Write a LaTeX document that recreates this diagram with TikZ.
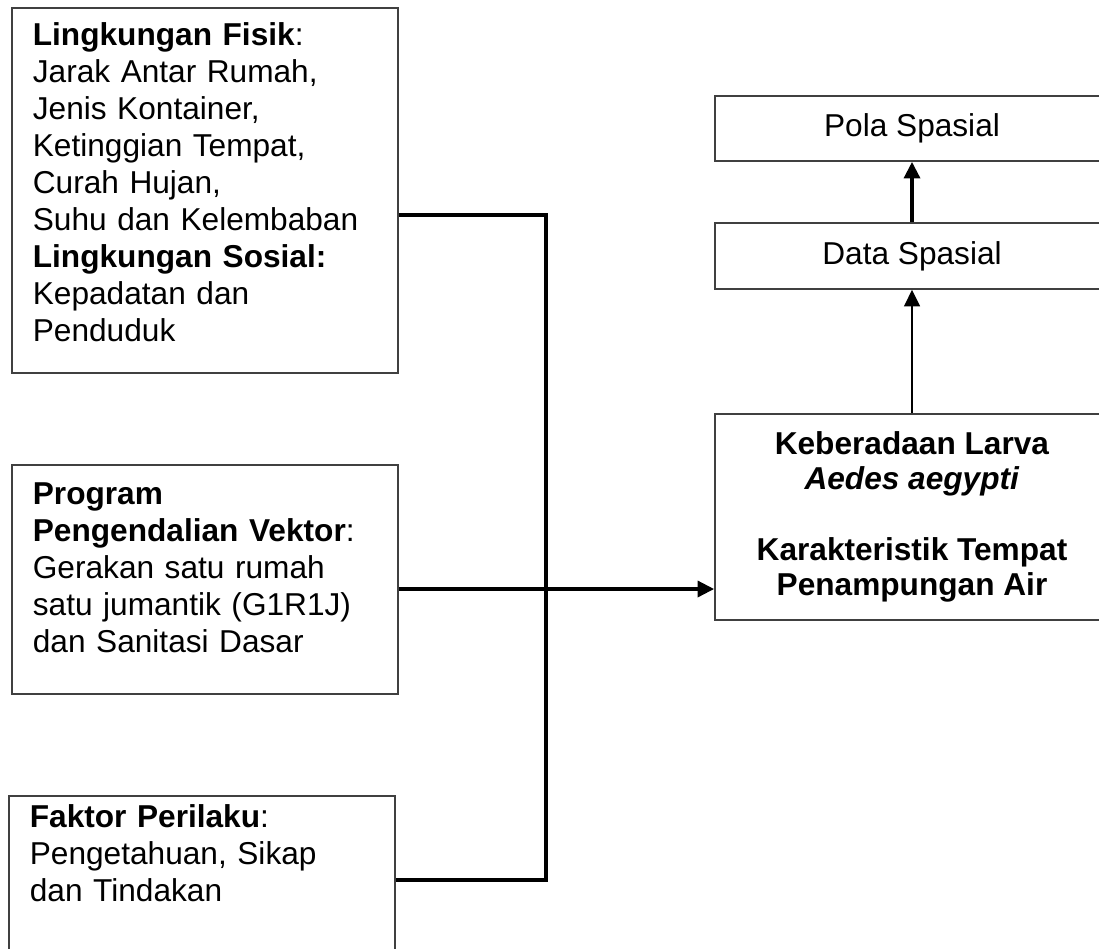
\documentclass[tikz,border=0pt]{standalone}
\usepackage{fontspec}
\setmainfont{Liberation Sans}
\usetikzlibrary{arrows.meta,positioning,calc}

\begin{document}
\begin{tikzpicture}[every node/.style={font=\fontsize{18}{21}\selectfont},
 faktor/.style={draw=black!75,line width=1pt,anchor=north west,align=left,text width=6.88cm,inner xsep=0.42cm,inner ysep=0.28cm},
 hasil/.style={draw=black!75,line width=1pt,minimum width=7.88cm,inner sep=0pt,align=center},
 garis/.style={line width=1.9pt},
 panah/.style={-{Triangle[length=0.33cm,width=0.32cm]},line width=1.9pt}]
\useasboundingbox (0,0) rectangle (21.98,-18.96);
\clip (0,0) rectangle (21.98,-18.96);
% kotak faktor di kiri
\node[faktor,text height=0.48cm,text depth=6.26cm] (fisik) at (0.22,-0.14)
 {\textbf{Lingkungan Fisik}:\\Jarak Antar Rumah,\\Jenis Kontainer,\\Ketinggian Tempat,\\Curah Hujan,\\Suhu dan Kelembaban\\\textbf{Lingkungan Sosial:}\\Kepadatan dan\\Penduduk};
\node[faktor,text height=0.52cm,text depth=3.50cm] (program) at (0.22,-9.28)
 {\textbf{Program}\\\textbf{Pengendalian Vektor}:\\Gerakan satu rumah\\satu jumantik (G1R1J)\\dan Sanitasi Dasar};
\node[faktor,text height=0.36cm,text depth=2.38cm] (perilaku) at (0.16,-15.9)
 {\textbf{Faktor Perilaku}:\\Pengetahuan, Sikap\\dan Tindakan};
% kotak hasil di kanan
\node[hasil,minimum height=4.12cm,font=\fontsize{18}{20}\selectfont] (larva) at (18.24,-10.34)
 {\textbf{Keberadaan Larva}\\\textbf{\textit{Aedes aegypti}}\\[20pt]\textbf{Karakteristik Tempat}\\\textbf{Penampungan Air}};
\node[hasil,minimum height=1.32cm] (data) at (18.24,-5.12) {Data Spasial};
\node[hasil,minimum height=1.3cm] (pola) at (18.24,-2.57) {Pola Spasial};
% garis penghubung
\coordinate (atas) at (10.92,-4.30);
\coordinate (bawah) at (10.92,-17.6);
\coordinate (tengah) at (10.92,-11.78);
\draw[garis] (atas -| fisik.east) -- (atas) -- (bawah) -- (bawah -| perilaku.east);
\draw[panah] (tengah -| program.east) -- (tengah -| larva.west);
\draw[panah,line width=0.8pt] (larva.north) -- (data.south);
\draw[panah] (data.north) -- (pola.south);
\end{tikzpicture}
\end{document}
